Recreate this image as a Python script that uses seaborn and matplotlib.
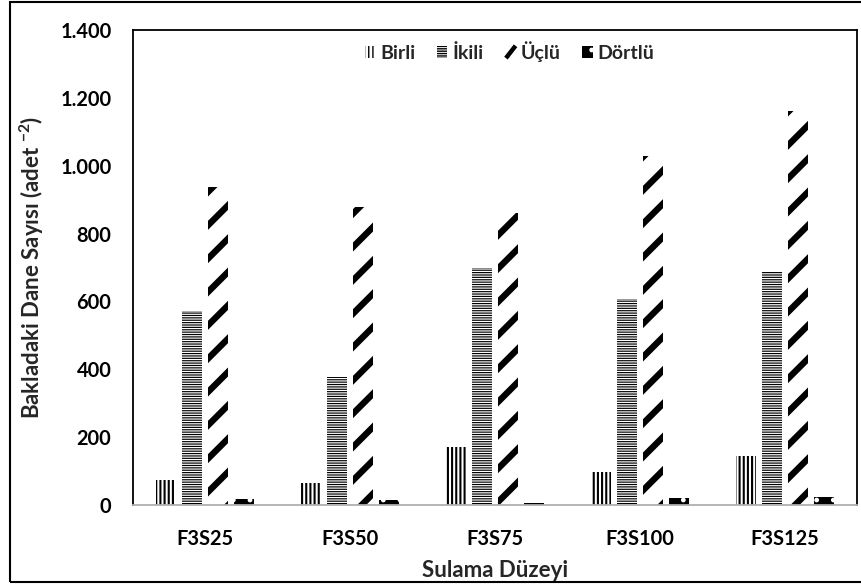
import matplotlib
matplotlib.use("Agg")
import matplotlib.pyplot as plt
import matplotlib.patches as mpatches
from matplotlib.lines import Line2D
from matplotlib.legend_handler import HandlerBase
from matplotlib.ticker import FuncFormatter
import pandas as pd
import seaborn as sns

# Irrigation levels and seed counts per pod class
levels = ["F3S25", "F3S50", "F3S75", "F3S100", "F3S125"]
series = ["Birli", "İkili", "Üçlü", "Dörtlü"]
birli = [74, 65, 171, 96, 145]
ikili = [572, 378, 698, 607, 690]
uclu = [937, 878, 861, 1029, 1161]
dortlu = [18, 15, 5, 22, 25]

y_ticks = [0, 200, 400, 600, 800, 1000, 1200, 1400]

df = pd.DataFrame({
    "Sulama": levels * 4,
    "Tip": [s for s in series for _ in levels],
    "Deger": birli + ikili + uclu + dortlu,
})

sns.set_theme(style="white")
plt.rcParams["font.family"] = ["Lato", "DejaVu Sans"]
plt.rcParams["font.weight"] = "bold"
plt.rcParams["mathtext.default"] = "regular"

DPI = 100
W, H = 862, 587
fig = plt.figure(figsize=(W / DPI, H / DPI), dpi=DPI)
ax = fig.add_axes([133 / W, 1 - 505 / H, (857 - 133) / W, (505 - 30) / H])

sns.barplot(data=df, x="Sulama", y="Deger", hue="Tip", order=levels,
            hue_order=series, palette=["white"] * 4, saturation=1,
            width=0.718, gap=0.23, errorbar=None, legend=False, ax=ax)

# fill / hatch style for each pod class
styles = {
    "Birli": dict(face="white", edge="black", hatch="||||", hlw=1.5),
    "İkili": dict(face="white", edge="black", hatch="-------", hlw=0.85),
    "Üçlü": dict(face="white", edge="black", hatch="/", hlw=4.6),
    "Dörtlü": dict(face="black", edge="white", hatch=".", hlw=1.0),
}


def style_patch(p, st):
    p.set_facecolor(st["face"])
    p.set_edgecolor(st["edge"])
    p.set_linewidth(0)
    p.set_hatch(st["hatch"])
    if hasattr(p, "set_hatch_linewidth"):
        p.set_hatch_linewidth(st["hlw"])


for cont, name in zip(ax.containers, series):
    for p in cont.patches:
        style_patch(p, styles[name])


class DiagonalHandler(HandlerBase):
    """Legend key drawn as one thick rising stripe."""

    def create_artists(self, legend, orig_handle, xdescent, ydescent,
                       width, height, fontsize, trans):
        x0, y0 = -xdescent, -ydescent
        ln = Line2D([x0 + 0.1 * width, x0 + width], [y0, y0 + height],
                    color="black", linewidth=3.2, solid_capstyle="butt")
        ln.set_transform(trans)
        return [ln]


handles = []
for name in series:
    h = mpatches.Patch(label=name)
    style_patch(h, styles[name])
    handles.append(h)

leg = ax.legend(handles=handles, loc="center", bbox_to_anchor=(0.52, 0.955),
                ncol=4, frameon=False, fontsize=14, handlelength=0.55,
                handleheight=0.6, handletextpad=0.25, columnspacing=1.1,
                borderpad=0.2, handler_map={handles[2]: DiagonalHandler()})
for t in leg.get_texts():
    t.set_fontweight("bold")

ax.set_ylim(0, 1400)
ax.set_yticks(y_ticks)
ax.yaxis.set_major_formatter(FuncFormatter(lambda v, _: f"{int(v):,}".replace(",", ".")))
ax.tick_params(axis="both", length=0, labelsize=14.4, colors="black")
ax.tick_params(axis="y", pad=15.5)
ax.tick_params(axis="x", pad=17.5)
for lab in ax.get_xticklabels() + ax.get_yticklabels():
    lab.set_fontweight("bold")

ax.set_xlabel("Sulama Düzeyi", fontsize=16, fontweight="bold", labelpad=7.5)
ax.set_ylabel("Bakladaki Dane Sayısı (adet $^{-2}$)", fontsize=16,
              fontweight="bold", labelpad=10)

for side in ["left", "top", "right"]:
    ax.spines[side].set_visible(True)
    ax.spines[side].set_color("black")
    ax.spines[side].set_linewidth(1.3)
ax.spines["bottom"].set_color("#b0b0b0")
ax.spines["bottom"].set_linewidth(1.3)

# chart area border
fig.patches.append(mpatches.Rectangle((10 / W, 1 - 582 / H), 1.2, (582 - 2) / H,
                                      transform=fig.transFigure, fill=False,
                                      edgecolor="black", linewidth=1.5))

fig.savefig("out.png", dpi=DPI)
